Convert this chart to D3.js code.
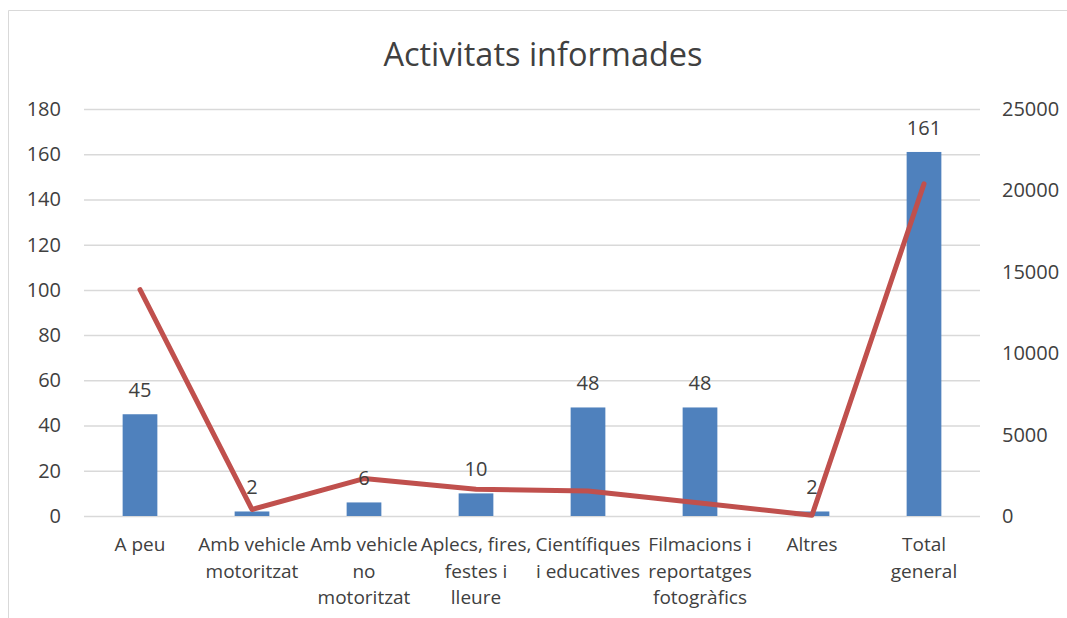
<!DOCTYPE html>
<html><head><meta charset="utf-8">
<script src="https://cdn.jsdelivr.net/npm/d3@7"></script>
<style>
html,body{margin:0;padding:0;background:#fff;}
svg{display:block;font-family:"Open Sans","Liberation Sans",sans-serif;}
</style></head>
<body>
<svg id="chart" width="1067" height="618"></svg>
<script>
const title = "Activitats informades";
const categories = ["A peu","Amb vehicle motoritzat","Amb vehicle no motoritzat","Aplecs, fires, festes i lleure","Científiques i educatives","Filmacions i reportatges fotogràfics","Altres","Total general"];
const categoryLines = [["A peu"],["Amb vehicle","motoritzat"],["Amb vehicle","no","motoritzat"],["Aplecs, fires,","festes i","lleure"],["Científiques","i educatives"],["Filmacions i","reportatges","fotogràfics"],["Altres"],["Total","general"]];
const barValues = [45, 2, 6, 10, 48, 48, 2, 161];
const lineValues = [13900, 400, 2300, 1650, 1530, 800, 50, 20400];
const leftTicks = [0,20,40,60,80,100,120,140,160,180];
const rightTicks = [0,5000,10000,15000,20000,25000];

const svg = d3.select("#chart");
const L = 84, R = 980, T = 109, B = 516;
const textColor = "#404040";

// border
svg.append("path").attr("d","M8.5,618 L8.5,10.5 L1067,10.5").attr("fill","none").attr("stroke","#d9d9d9").attr("stroke-width",1);

const x = d3.scaleBand().domain(categories).range([L,R]).paddingInner(0.69).paddingOuter(0.345);
const y = d3.scaleLinear().domain([0,180]).range([B,T]);
const y2 = d3.scaleLinear().domain([0,25000]).range([B,T]);

// gridlines + left axis
const gAxisL = svg.append("g").attr("transform",`translate(${L},0)`)
  .call(d3.axisLeft(y).tickValues(leftTicks).tickSize(-(R-L)).tickPadding(23).tickFormat(d3.format("d")));
gAxisL.select(".domain").remove();
gAxisL.selectAll("line").attr("stroke","#d9d9d9").attr("stroke-width",1.5);
gAxisL.selectAll("text").attr("fill",textColor).style("font-size","20px").style("font-family","Open Sans");

const gAxisR = svg.append("g").attr("transform",`translate(${R},0)`)
  .call(d3.axisRight(y2).tickValues(rightTicks).tickSize(0).tickPadding(22).tickFormat(d3.format("d")));
gAxisR.select(".domain").remove();
gAxisR.selectAll("text").attr("fill",textColor).style("font-size","20px").style("font-family","Open Sans");

// bars
svg.append("g").selectAll("rect").data(barValues).join("rect")
  .attr("x",(d,i)=>x(categories[i]))
  .attr("y",d=>y(d))
  .attr("width",x.bandwidth())
  .attr("height",d=>B-y(d))
  .attr("fill","#4f81bd");

// line
const line = d3.line().x((d,i)=>x(categories[i])+x.bandwidth()/2).y(d=>y2(d));
svg.append("path").datum(lineValues).attr("d",line)
  .attr("fill","none").attr("stroke","#c0504d").attr("stroke-width",5)
  .attr("stroke-linejoin","round").attr("stroke-linecap","round");

// data labels
svg.append("g").selectAll("text").data(barValues).join("text")
  .attr("x",(d,i)=>x(categories[i])+x.bandwidth()/2)
  .attr("y",d=>y(d)-17)
  .attr("text-anchor","middle")
  .attr("fill",textColor)
  .style("font-size","20px")
  .text(d=>d);

// category labels
const cl = svg.append("g").selectAll("text").data(categoryLines).join("text")
  .attr("text-anchor","middle")
  .attr("fill",textColor)
  .style("font-size","19px");
cl.each(function(lines,i){
  const t = d3.select(this);
  lines.forEach((s,j)=>{
    t.append("tspan").attr("x",x(categories[i])+x.bandwidth()/2).attr("y",551+j*26.5).text(s);
  });
});

// title
svg.append("text").attr("x",543).attr("y",66).attr("text-anchor","middle")
  .attr("fill",textColor).style("font-size","32.5px").text(title);
</script>
</body></html>
